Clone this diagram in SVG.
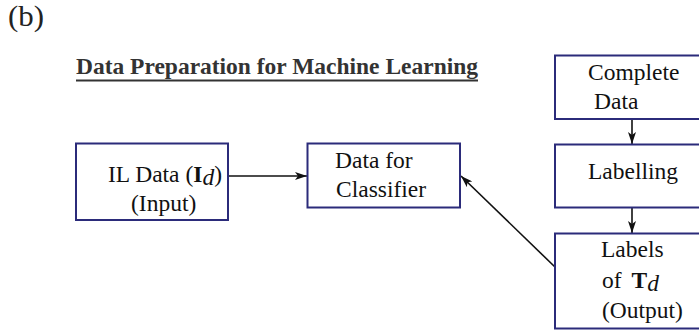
<svg xmlns="http://www.w3.org/2000/svg" width="699" height="333" viewBox="0 0 699 333">
  <style>
    .box { fill: #ffffff; stroke: #2b2b7a; stroke-width: 2; }
    .lbl { font-family: "Liberation Serif", "Times New Roman", serif; font-size: 23.5px; fill: #111111; }
    .title { font-family: "Liberation Serif", "Times New Roman", serif; font-size: 23.5px; font-weight: bold; fill: #333333; }
    .edge { stroke: #111111; stroke-width: 1.6; fill: none; marker-end: url(#head); }
  </style>
  <defs>
    <marker id="head" viewBox="0 0 12 8" refX="12" refY="4" markerWidth="12" markerHeight="8" markerUnits="userSpaceOnUse" orient="auto">
      <path d="M0,0 L12,4 L0,8 L3,4 Z" fill="#111111"/>
    </marker>
  </defs>
  <rect width="699" height="333" fill="#ffffff"/>

  <text x="8" y="26" font-family="Liberation Serif, serif" font-size="29" fill="#222222" textLength="36" lengthAdjust="spacingAndGlyphs">(b)</text>

  <g id="title">
    <text class="title" x="76" y="74" textLength="402" lengthAdjust="spacingAndGlyphs">Data Preparation for Machine Learning</text>
    <line x1="76" y1="80.5" x2="478" y2="80.5" stroke="#333333" stroke-width="2"/>
  </g>

  <g id="connectors">
    <line class="edge" x1="228" y1="176" x2="307" y2="176"/>
    <line class="edge" x1="555" y1="267" x2="461" y2="176"/>
    <line class="edge" x1="632" y1="120" x2="632" y2="144"/>
    <line class="edge" x1="632" y1="208" x2="632" y2="233"/>
  </g>

  <g id="il-data">
    <rect class="box" x="76" y="143.5" width="152" height="76.5"/>
    <text class="lbl" x="108" y="182">IL Data (<tspan font-weight="bold">I</tspan><tspan font-style="italic" dy="3">d</tspan><tspan dy="-3">)</tspan></text>
    <text class="lbl" x="131" y="211">(Input)</text>
  </g>

  <g id="classifier-data">
    <rect class="box" x="307.5" y="143.5" width="152.5" height="64"/>
    <text class="lbl" x="335" y="168">Data for</text>
    <text class="lbl" x="336" y="197">Classifier</text>
  </g>

  <g id="complete-data">
    <rect class="box" x="555" y="55.5" width="160" height="63.5"/>
    <text class="lbl" x="588" y="80">Complete</text>
    <text class="lbl" x="594" y="109">Data</text>
  </g>

  <g id="labelling">
    <rect class="box" x="555" y="144.5" width="160" height="63"/>
    <text class="lbl" x="588" y="179">Labelling</text>
  </g>

  <g id="labels-output">
    <rect class="box" x="555" y="233.5" width="160" height="95"/>
    <text class="lbl" x="601" y="257">Labels</text>
    <text class="lbl" x="602" y="288">of <tspan font-weight="bold" dx="4">T</tspan><tspan font-style="italic" dy="3">d</tspan></text>
    <text class="lbl" x="602" y="318">(Output)</text>
  </g>
</svg>
